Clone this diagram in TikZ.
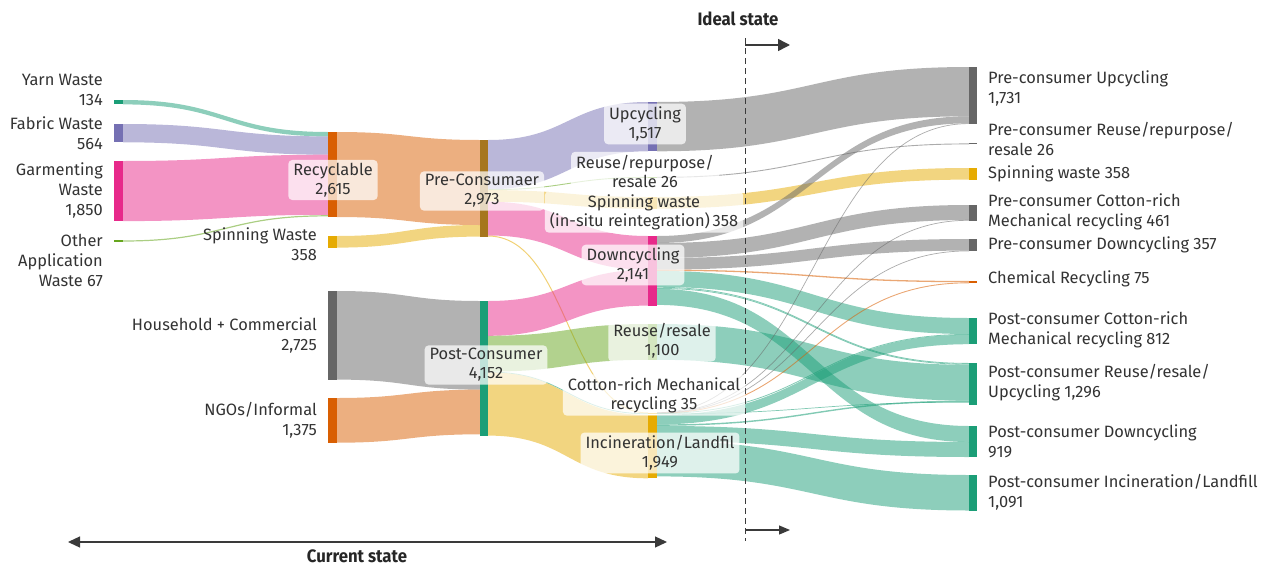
\documentclass[tikz,border=0pt]{standalone}
\usepackage{fontspec}
\setmainfont{Fira Sans}
\usetikzlibrary{arrows.meta}

\definecolor{cteal}{HTML}{1B9E77}
\definecolor{corange}{HTML}{D95F02}
\definecolor{cpurple}{HTML}{7570B3}
\definecolor{cpink}{HTML}{E7298A}
\definecolor{cgreen}{HTML}{66A61E}
\definecolor{cyellow}{HTML}{E6AB02}
\definecolor{cbrown}{HTML}{A6761D}
\definecolor{cgray}{HTML}{666666}
\definecolor{ctext}{HTML}{333333}
\definecolor{cline}{HTML}{3A3A3A}

% flow band between two bars: x1, top1, bottom1, x2, top2, bottom2, colour
\newcommand\skband[7]{%
  \pgfmathsetmacro\xm{(#1+#4)/2}%
  \fill[#7, fill opacity=0.5] (#1,#2) .. controls (\xm,#2) and (\xm,#5) .. (#4,#5)
    -- (#4,#6) .. controls (\xm,#6) and (\xm,#3) .. (#1,#3) -- cycle;}
% thin flow drawn as a stroke: x1, y1, x2, y2, colour, width
\newcommand\skline[6]{%
  \pgfmathsetmacro\xm{(#1+#3)/2}%
  \draw[#5, draw opacity=0.55, line width=#6] (#1,#2) .. controls (\xm,#2) and (\xm,#4) .. (#3,#4);}
% node bar: x1, y1, x2, y2, colour
\newcommand\skbar[5]{\fill[#5] (#1,#2) rectangle (#3,#4);}

\begin{document}
\begin{tikzpicture}[x=1pt,y=-1pt,
  lbl/.style={font=\fontsize{16.4}{20}\selectfont, text=ctext, inner sep=0pt},
  lblr/.style={lbl, anchor=east, align=right},
  lbll/.style={lbl, anchor=west, align=left},
  box/.style={font=\fontsize{16.4}{19}\selectfont, text=ctext, fill=white, fill opacity=0.72,
    text opacity=1, rounded corners=4pt, inner xsep=5pt, inner ysep=3pt, align=center},
  headline/.style={font=\bfseries\fontsize{18}{20}\selectfont, text=black!85, inner sep=0pt},
  arr/.style={line width=1.5pt, draw=cline, -{Triangle[length=12pt,width=12pt]}}]
\useasboundingbox (0,0) rectangle (1267,565);

% ---------- flows: sources -> Recyclable
\skband{123}{100}{104.4}{328}{132}{136.4}{cteal}
\skband{123}{124}{142.3}{328}{136.4}{154.7}{cpurple}
\skband{123}{161}{221.1}{328}{154.7}{214.8}{cpink}
\skline{123}{241}{328}{215.8}{cgreen}{1.2}

% ---------- flows: into Pre-Consumaer and Post-Consumer
\skband{337}{132}{217}{480}{140}{225}{corange}
\skband{337}{236}{247.6}{480}{225}{236.6}{cyellow}
\skband{337}{291}{379.6}{480}{301}{389.6}{cgray}
\skband{337}{398}{442.7}{480}{389.6}{434.3}{corange}

% ---------- flows: Pre-Consumaer outflows
\skband{488}{140}{189.3}{648}{102}{151.3}{cpurple}
\skline{488}{189.7}{648}{177.4}{cgreen}{0.9}
\skband{488}{190.1}{201.7}{648}{197}{208.6}{cyellow}
\skband{488}{201.7}{235.5}{648}{236}{269.8}{cpink}
\skline{488}{236}{648}{413}{cyellow}{1}

% ---------- flows: Post-Consumer outflows
\skband{488}{301}{335.8}{648}{269.8}{305.6}{cpink}
\skband{488}{335.8}{371.6}{648}{324}{359.8}{cgreen}
\skline{488}{372}{648}{413.8}{cteal}{0.8}
\skband{488}{372.3}{435.6}{648}{415}{478.3}{cyellow}

% ---------- flows: ideal state
\skband{657}{102}{151.3}{969}{67}{116.3}{cgray}
\skline{657}{177.4}{969}{143.9}{cgray}{0.9}
\skband{657}{197}{208.6}{969}{168}{179.6}{cyellow}
\skband{657}{236}{243}{969}{116.3}{123.3}{cgray}
\skband{657}{243}{258}{969}{205}{220}{cgray}
\skband{657}{258}{269.6}{969}{239}{250.6}{cgray}
\skline{657}{270.2}{969}{281.6}{corange}{1.3}
\skband{657}{270.9}{286.9}{969}{318}{334}{cteal}
\skline{657}{287.3}{969}{363.4}{cteal}{0.8}
\skline{657}{288.4}{969}{364.3}{cteal}{0.8}
\skband{657}{288.9}{304.9}{969}{426}{442}{cteal}
\skband{657}{324}{359.8}{969}{364.8}{400.6}{cteal}
\skband{657}{415}{424.4}{969}{334.8}{344.2}{cteal}
\skline{657}{425.1}{969}{401.3}{cteal}{1.4}
\skband{657}{425.9}{440.9}{969}{442}{457}{cteal}
\skband{657}{440.9}{476.4}{969}{475}{510.5}{cteal}
\skline{657}{412.7}{969}{123.6}{cgray}{0.7}
\skline{657}{412.9}{969}{220.3}{cgray}{0.7}
\skline{657}{413.1}{969}{250.9}{cgray}{0.7}
\skline{657}{413.3}{969}{282.8}{corange}{0.9}
\skline{657}{413.5}{969}{334.4}{cteal}{0.8}
\skline{657}{413.8}{969}{402.2}{cteal}{0.7}

% ---------- bars
\skbar{114}{100}{123}{104.4}{cteal}
\skbar{114}{124}{123}{142.3}{cpurple}
\skbar{114}{161}{123}{221.1}{cpink}
\skbar{114}{240.4}{123}{241.6}{cgreen}
\skbar{328}{132}{337}{217}{corange}
\skbar{328}{236}{337}{247.6}{cyellow}
\skbar{328}{291}{337}{379.6}{cgray}
\skbar{328}{398}{337}{442.7}{corange}
\skbar{480}{140}{488}{236.6}{cbrown}
\skbar{480}{301}{488}{436}{cteal}
\skbar{648}{102}{657}{151.3}{cpurple}
\skbar{648}{176.9}{657}{177.9}{cgreen}
\skbar{648}{197}{657}{208.6}{cyellow}
\skbar{648}{236}{657}{305.6}{cpink}
\skbar{648}{324}{657}{359.8}{cgreen}
\skbar{648}{412.5}{657}{414.2}{cyellow}
\skbar{648}{415}{657}{478.3}{cyellow}
\skbar{969}{67}{977}{123.8}{cgray}
\skbar{969}{143.4}{977}{144.4}{cgray}
\skbar{969}{168}{977}{179.6}{cyellow}
\skbar{969}{205}{977}{220.5}{cgray}
\skbar{969}{239}{977}{251}{cgray}
\skbar{969}{281}{977}{283.4}{corange}
\skbar{969}{318}{977}{344.4}{cteal}
\skbar{969}{363}{977}{405}{cteal}
\skbar{969}{426}{977}{457}{cteal}
\skbar{969}{475}{977}{510.5}{cteal}

% ---------- current / ideal state markers
\coordinate (dtop) at (745,38);
\coordinate (dbot) at (745,541);
\draw[cline, line width=1pt, dash pattern=on 6pt off 4pt] (dtop) -- (dbot);
\coordinate (ia0) at (745,45);  \coordinate (ia1) at (790,45);
\coordinate (ib0) at (745,530); \coordinate (ib1) at (790,530);
\draw[arr] (ia0) -- (ia1);
\draw[arr, line width=1.2pt, -{Triangle[length=11pt,width=9pt]}] (ib0) -- (ib1);
\coordinate (cs0) at (68,542); \coordinate (cs1) at (667,542);
\draw[cline, line width=1.3pt, {Triangle[length=12pt,width=11pt]}-{Triangle[length=12pt,width=11pt]}] (cs0) -- (cs1);
\node[headline] (ideal) at (738,19) {\scalebox{0.93}[1]{Ideal state}};
\node[headline] (current) at (357,556) {\scalebox{0.93}[1]{Current state}};

% ---------- source labels
\node[lblr] (lyarn) at (103,89.5) {Yarn Waste\\134};
\node[lblr] (lfabric) at (103,133.5) {Fabric Waste\\564};
\node[lblr] (lgarm) at (103,190.5) {Garmenting\\Waste\\1,850};
\node[lblr] (lother) at (103,260) {Other\\Application\\Waste 67};
\node[lblr] (lhouse) at (317,335) {Household + Commercial\\2,725};
\node[lblr] (lngo) at (317,420) {NGOs/Informal\\1,375};
\node[lblr] (lspin) at (317,244) {Spinning Waste\\358};

% ---------- boxed labels
\node[box] (lrecy) at (333,180) {Recyclable\\2,615};
\node[box] (lpre) at (482,191) {Pre-Consumaer\\2,973};
\node[box] (lpost) at (486,365) {Post-Consumer\\4,152};
\node[box] (lupc) at (645,124) {Upcycling\\1,517};
\node[box] (lreu) at (645,171) {Reuse/repurpose/\\resale 26};
\node[box] (lspw) at (644,212) {Spinning waste\\(in-situ reintegration)\,358};
\node[box] (ldown) at (633,265) {Downcycling\\2,141};
\node[box] (lrr) at (662,341) {Reuse/resale\\1,100};
\node[box] (lcot) at (654,395) {Cotton-rich Mechanical\\recycling 35};
\node[box] (linc) at (660,453) {Incineration/Landfil\\1,949};

% ---------- outcome labels
\node[lbll] (rpu) at (988,88) {Pre-consumer Upcycling\\1,731};
\node[lbll] (rpr) at (988,138.5) {Pre-consumer Reuse/repurpose/\\resale 26};
\node[lbll] (rsp) at (988,174) {Spinning waste 358};
\node[lbll] (rpc) at (988,212) {Pre-consumer Cotton-rich\\Mechanical recycling 461};
\node[lbll] (rpd) at (988,245) {Pre-consumer Downcycling 357};
\node[lbll] (rch) at (988,279) {Chemical Recycling 75};
\node[lbll] (rqc) at (988,330) {Post-consumer Cotton-rich\\Mechanical recycling 812};
\node[lbll] (rqr) at (988,383) {Post-consumer Reuse/resale/\\Upcycling 1,296};
\node[lbll] (rqd) at (988,441.5) {Post-consumer Downcycling\\919};
\node[lbll] (rqi) at (988,492) {Post-consumer Incineration/Landfill\\1,091};
\end{tikzpicture}
\end{document}
